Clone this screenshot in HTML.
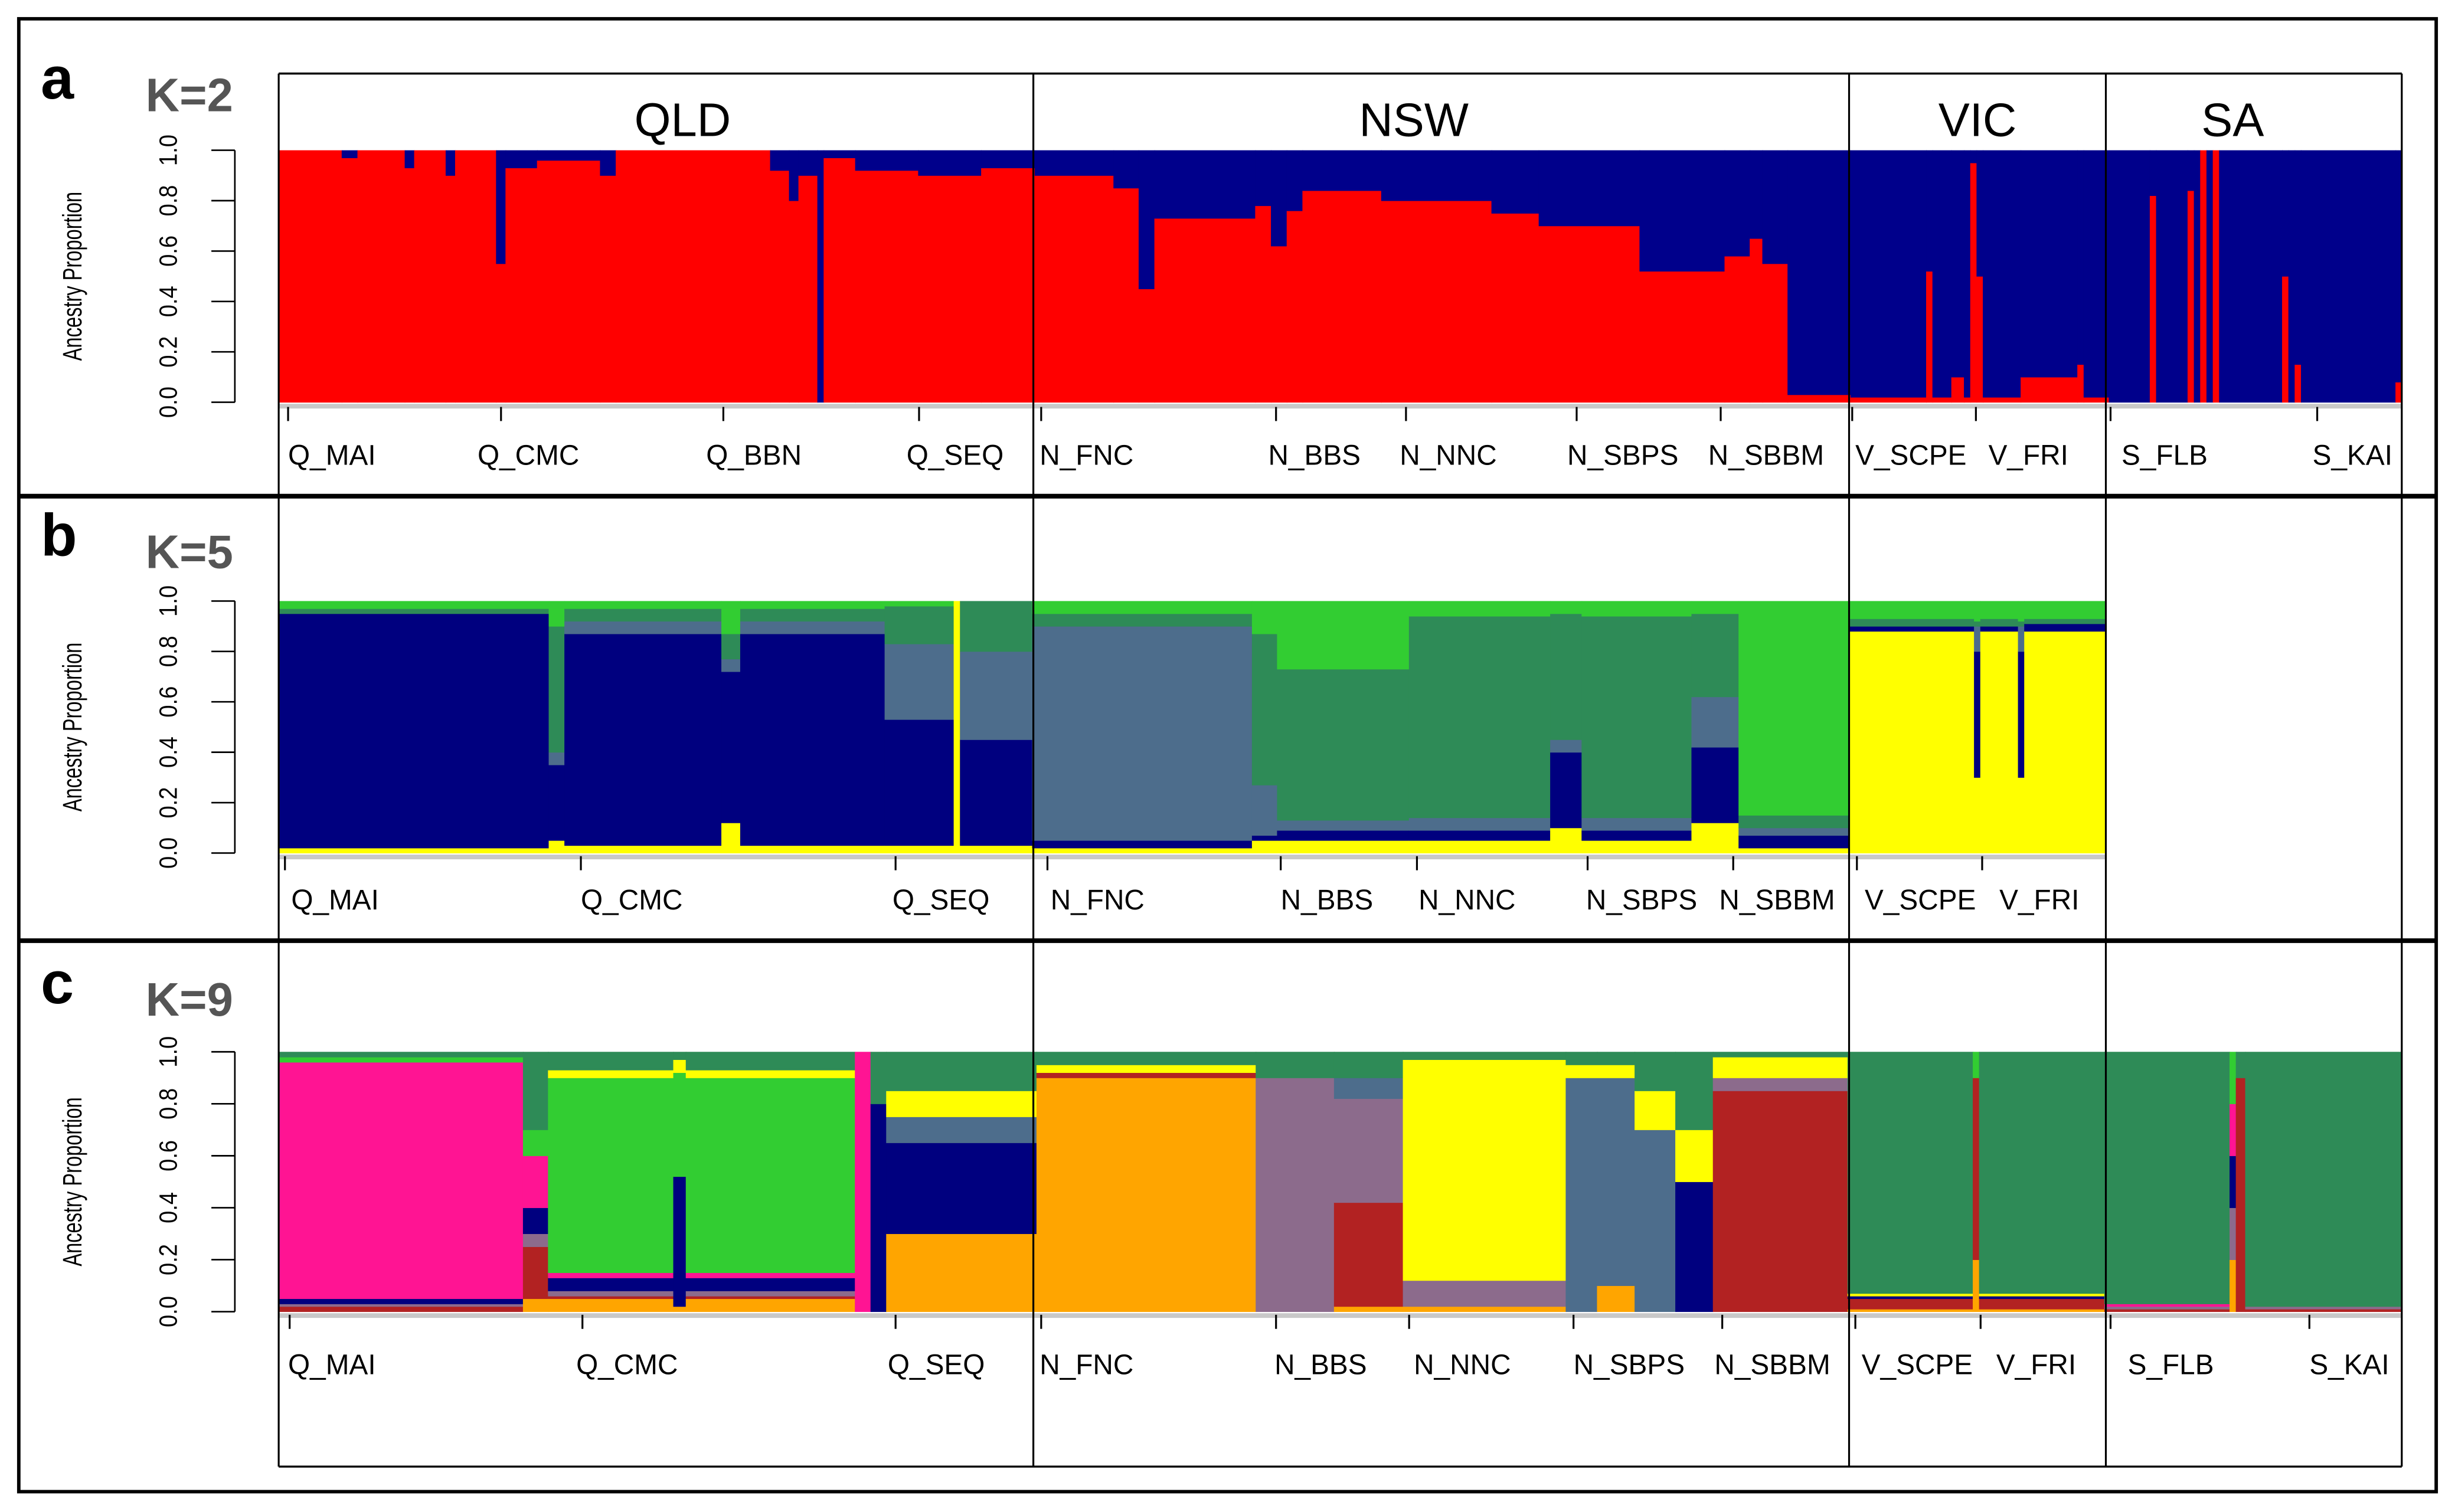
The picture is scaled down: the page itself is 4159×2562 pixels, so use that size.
<!DOCTYPE html>
<html><head><meta charset="utf-8"><title>STRUCTURE ancestry plots</title>
<style>
html,body{margin:0;padding:0;background:#fff;}
svg{display:block;font-family:"Liberation Sans",Arial,sans-serif;}
</style></head>
<body>
<svg id="fig" width="4159" height="2562" viewBox="0 0 1568 966" preserveAspectRatio="none" xmlns="http://www.w3.org/2000/svg">
<rect x="0" y="0" width="1568" height="966" fill="#fff"/>
<g id="bars"></g>
<g id="frame" stroke="#000" fill="none">
 <rect x="12" y="12" width="1544" height="941" stroke-width="2.2"/>
 <line x1="12" y1="317" x2="1556" y2="317" stroke-width="3"/>
 <line x1="12" y1="601" x2="1556" y2="601" stroke-width="3"/>
 <line x1="178" y1="47" x2="1534" y2="47" stroke-width="1.3"/>
 <line x1="178" y1="937" x2="1534" y2="937" stroke-width="1.3"/>
 <line x1="178" y1="47" x2="178" y2="937" stroke-width="1.2"/>
 <line x1="660" y1="47" x2="660" y2="937" stroke-width="1.2"/>
 <line x1="1181" y1="47" x2="1181" y2="937" stroke-width="1.2"/>
 <line x1="1345" y1="47" x2="1345" y2="937" stroke-width="1.2"/>
 <line x1="1534" y1="47" x2="1534" y2="937" stroke-width="1.2"/>
</g>
<g id="labels" font-size="30" text-anchor="middle" fill="#000">
 <text x="436" y="87">QLD</text>
 <text x="903" y="87">NSW</text>
 <text x="1263" y="87">VIC</text>
 <text x="1426" y="87">SA</text>
</g>
<g id="axes"></g>
</svg>
<script>
// Panel a (K=2): runs of [individual count, red proportion]
const aCounts = [20,5,15,3,10,3,13, 3, 10,20,5,49, 6,3,6, 2, 10, 20,20,17, 25,8,5,32, 5,5,5, 25,35, 15,32, 27, 8,4,8, 20,
 24,2,6,4,2,2,2,12,18,2,8,
 13,2,10,2,2,2,2,2,20,2,2,2,30,2];
const aRed = [1,0.97,1,0.93,1,0.9,1, 0.55, 0.93,0.96,0.9,1, 0.92,0.8,0.9, 0, 0.97, 0.92,0.9,0.93, 0.9,0.85,0.45,0.73, 0.78,0.62,0.76, 0.84,0.8, 0.75,0.7, 0.52, 0.58,0.65,0.55, 0.03,
 0.02,0.52,0.02,0.1,0.02,0.95,0.5,0.02,0.1,0.15,0.02,
 0,0.82,0,0.84,0,1,0,1,0,0.5,0,0.15,0,0.08];
const aColors = ['#ff0000','#00008b'];

// Panel b (K=5): order yellow, navy, slate, dark green, light green
const bColors = ['#ffff00','#00007f','#4d6d8c','#2e8b57','#32cd32'];
const bCounts = [86,5,50,6,46,22,2,23,70,8,42,45,10,35,15,35,40,2,12,2,26];
const bYellow = [.02,.05,.03,.12,.03,.03,1,.03,.02,.05,.05,.05,.1,.05,.12,.02,.88,.3,.88,.3,.88];
const bNavy   = [.93,.3,.84,.6,.84,.5,0,.42,.03,.02,.04,.04,.3,.04,.3,.05,.02,.5,.02,.5,.03];
const bSlate  = [0,.05,.05,.05,.05,.3,0,.35,.85,.2,.04,.05,.05,.05,.2,.03,0,.1,0,.1,0];
const bDGreen = [.02,.5,.05,.1,.05,.15,0,.2,.05,.6,.6,.8,.5,.8,.33,.05,.03,.02,.03,.02,.02];
const bLGreen = [.03,.1,.03,.13,.03,.02,0,0,.05,.13,.27,.06,.05,.06,.05,.85,.07,.08,.07,.08,.07];

// Panel c (K=9): order orange, firebrick, purple, navy, slate, pink, light green, yellow, sea green
const cColors = ['#ffa500','#b22222','#8c6b8c','#00007f','#4d6d8c','#ff1493','#32cd32','#ffff00','#2e8b57'];
const cCounts = [78,8,40,4,54,5,5,48,70,25,22,52,10,12,13,12,43,40,2,40,40,2,3,50];
const cOrange = [0,.05,.05,.02,.05,0,0,.3,.9,0,.02,.02,0,.1,0,0,0,.01,.2,.01,0,.2,0,0];
const cRed    = [.02,.2,.01,0,.01,0,0,0,.02,0,.4,0,0,0,0,0,.85,.04,.7,.04,.01,0,.9,.01];
const cPurple = [.01,.05,.02,0,.02,0,0,0,0,.9,.4,.1,0,0,0,0,.05,0,0,0,.01,.2,0,.01];
const cNavy   = [.02,.1,.05,.5,.05,0,.8,.35,0,0,0,0,0,0,0,.5,0,.01,0,.01,0,.2,0,0];
const cSlate  = [0,0,0,0,0,0,0,.1,0,0,.08,0,.9,.8,.7,0,0,0,0,0,0,0,0,0];
const cPink   = [.91,.2,.02,0,.02,1,0,0,0,0,0,0,0,0,0,0,0,0,0,0,.01,.2,0,0];
const cLGreen = [.02,.1,.75,.4,.75,0,0,0,0,0,0,0,0,0,0,0,0,0,.1,0,0,.2,0,0];
const cYellow = [0,0,.03,.05,.03,0,0,.1,.03,0,0,.85,.05,.05,.15,.2,.08,.01,0,.01,0,0,0,0];
const cSGreen = [.02,.3,.07,.03,.07,0,.2,.15,.05,.1,.1,.03,.05,.05,.15,.3,.02,.93,0,.93,.97,0,.1,.98];

// Y-axis ticks and population labels
const yTicks = [0,0.2,0.4,0.6,0.8,1.0];
const yTickLabels = ['0.0','0.2','0.4','0.6','0.8','1.0'];
const popA = ['Q_MAI','Q_CMC','Q_BBN','Q_SEQ','N_FNC','N_BBS','N_NNC','N_SBPS','N_SBBM','V_SCPE','V_FRI','S_FLB','S_KAI'];
const popAx = [184,305,451,579,664,810,894,1001,1091,1185,1270,1355,1477];
const popAtick = [184,320,462,587,665,815,898,1007,1099,1183,1262,1348,1480];
const popB = ['Q_MAI','Q_CMC','Q_SEQ','N_FNC','N_BBS','N_NNC','N_SBPS','N_SBBM','V_SCPE','V_FRI'];
const popBx = [186,371,570,671,818,906,1013,1098,1191,1277];
const popBtick = [182,371,572,669,818,905,1014,1107,1186,1266];
const popC = ['Q_MAI','Q_CMC','Q_SEQ','N_FNC','N_BBS','N_NNC','N_SBPS','N_SBBM','V_SCPE','V_FRI','S_FLB','S_KAI'];
const popCx = [184,368,567,664,814,903,1005,1095,1189,1275,1359,1475];
const popCtick = [185,372,572,665,815,900,1005,1100,1185,1265,1348,1475];

const NS = 'http://www.w3.org/2000/svg';
const barsG = document.getElementById('bars');
const axesG = document.getElementById('axes');
function mk(tag, attrs, parent){
  const e = document.createElementNS(NS, tag);
  for (const k in attrs) e.setAttribute(k, attrs[k]);
  parent.appendChild(e);
  return e;
}

function drawPanel(id, x0, x1, yTop, yBot, counts, series, colors){
  const total = counts.reduce((s,c)=>s+c,0);
  const xs = i => x0 + (x1-x0)*i/total;
  const ys = v => yBot - (yBot-yTop)*v;
  const g = mk('g', {}, barsG);
  
  
  let idx = 0;
  for (let r=0; r<counts.length; r++){
    const xa = xs(idx), xb = xs(idx+counts[r]);
    let cum = 0;
    const vals = series.map(s=>s[r]);
    const sum = vals.reduce((a,b)=>a+b,0) || 1;
    for (let k=0; k<series.length; k++){
      const v = vals[k]/sum;
      if (v<=0) continue;
      const y1 = ys(cum+v), y2 = ys(cum);
      const rc = mk('rect', {x:xa, y:y1, width:(xb-xa)+0.4, height:(y2-y1)+0.2, fill:colors[k]}, g);
      
      
      cum += v;
    }
    idx += counts[r];
  }
  const bl = mk('rect', {x:x0, y:yBot+1, width:x1-x0, height:3, fill:'#c8c8c8'}, g);
  
  
  const ax = mk('g', {}, axesG);
  
  
  mk('line', {x1:150, y1:ys(0), x2:150, y2:ys(1), stroke:'#000', 'stroke-width':1}, ax);
  yTicks.forEach((t,i)=>{
    const y = ys(t);
    mk('line', {x1:135, y1:y, x2:150, y2:y, stroke:'#000', 'stroke-width':1}, ax);
    const tx = mk('text', {x:0, y:0, 'font-size':16, 'text-anchor':'middle', fill:'#000',
      textLength:20, lengthAdjust:'spacingAndGlyphs',
      transform:'translate(113,'+y+') rotate(-90)'}, ax);
    
    
    tx.textContent = yTickLabels[i];
  });
  const title = mk('text', {x:0, y:0, 'font-size':17, 'text-anchor':'middle', fill:'#000',
    textLength:108, lengthAdjust:'spacingAndGlyphs',
    transform:'translate(52,'+((ys(0)+ys(1))/2)+') rotate(-90)'}, ax);
  
  
  title.textContent = 'Ancestry Proportion';
}

function drawPops(id, names, xsArr, ticks, yLine, yText){
  const g = mk('g', {}, axesG);
  
  
  names.forEach((n,i)=>{
    const tk = mk('line', {x1:ticks[i], y1:yLine, x2:ticks[i], y2:yLine+9, stroke:'#000', 'stroke-width':1.2}, g);
    
    
    const t = mk('text', {x:xsArr[i], y:yText, 'font-size':18, fill:'#000'}, g);
    
    
    t.textContent = n;
  });
}

function panelLabel(id, letter, k, yBase){
  const a = mk('text', {x:26, y:yBase, 'font-size':38, 'font-weight':'bold', fill:'#000'}, axesG);
  
  
  a.textContent = letter;
  const kk = mk('text', {x:93, y:yBase+8, 'font-size':30, 'font-weight':'bold', fill:'#555'}, axesG);
  
  
  kk.textContent = k;
}

drawPanel('a', 178, 1534, 96, 257, aCounts, [aRed, aRed.map(v=>1-v)], aColors);
drawPanel('b', 178, 1345, 384, 545, bCounts, [bYellow,bNavy,bSlate,bDGreen,bLGreen], bColors);
drawPanel('c', 178, 1534, 672, 838, cCounts, [cOrange,cRed,cPurple,cNavy,cSlate,cPink,cLGreen,cYellow,cSGreen], cColors);
drawPops('a', popA, popAx, popAtick, 260, 297);
drawPops('b', popB, popBx, popBtick, 547, 581);
drawPops('c', popC, popCx, popCtick, 840, 878);
panelLabel('a', 'a', 'K=2', 63);
panelLabel('b', 'b', 'K=5', 355);
panelLabel('c', 'c', 'K=9', 641);
</script>
</body></html>
